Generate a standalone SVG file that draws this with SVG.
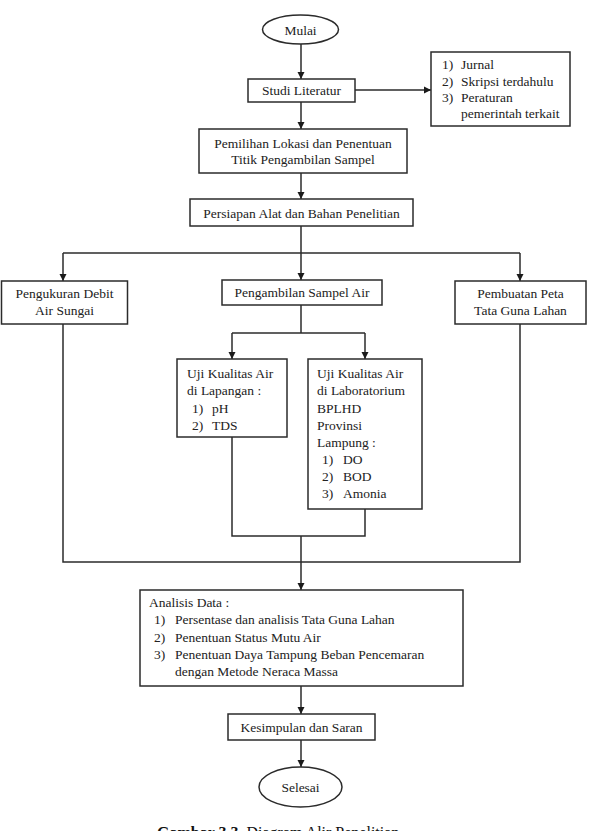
<svg xmlns="http://www.w3.org/2000/svg" width="590" height="831" viewBox="0 0 590 831">
<style>
.b{fill:#fff;stroke:#2b2b2b;stroke-width:1.5}
.t{font-family:"Liberation Serif","Times New Roman",serif;font-size:13.5px;fill:#222}
.c{text-anchor:middle}
.l{fill:none;stroke:#2b2b2b;stroke-width:1.5}
.cap{font-family:"Liberation Serif","Times New Roman",serif;font-size:16px;fill:#111}
</style>
<defs>
<marker id="ar" viewBox="0 0 10 10" refX="10" refY="5" markerWidth="7" markerHeight="8" markerUnits="userSpaceOnUse" orient="auto">
<path d="M0,0 L10,5 L0,10 z" fill="#1a1a1a"/>
</marker>
</defs>
<rect width="590" height="831" fill="#fff"/>
<g id="connectors">
<line class="l" x1="301" y1="44" x2="301" y2="79" marker-end="url(#ar)"/>
<line class="l" x1="355" y1="90" x2="431" y2="90" marker-end="url(#ar)"/>
<line class="l" x1="301" y1="102" x2="301" y2="129" marker-end="url(#ar)"/>
<line class="l" x1="301" y1="173" x2="301" y2="199" marker-end="url(#ar)"/>
<polyline class="l" points="301,226 301,253"/>
<polyline class="l" points="63,253 520,253"/>
<line class="l" x1="63" y1="253" x2="63" y2="281" marker-end="url(#ar)"/>
<line class="l" x1="301" y1="253" x2="301" y2="280" marker-end="url(#ar)"/>
<line class="l" x1="520" y1="253" x2="520" y2="281" marker-end="url(#ar)"/>
<polyline class="l" points="301,305 301,333"/>
<polyline class="l" points="232,333 365,333"/>
<line class="l" x1="232" y1="333" x2="232" y2="359" marker-end="url(#ar)"/>
<line class="l" x1="365" y1="333" x2="365" y2="359" marker-end="url(#ar)"/>
<polyline class="l" points="232,437 232,536 365,536 365,509"/>
<polyline class="l" points="63,324 63,562 520,562 520,324"/>
<line class="l" x1="301" y1="536" x2="301" y2="590" marker-end="url(#ar)"/>
<line class="l" x1="301" y1="686" x2="301" y2="714" marker-end="url(#ar)"/>
<line class="l" x1="301" y1="740" x2="301" y2="767" marker-end="url(#ar)"/>
</g>
<g id="mulai">
<ellipse class="b" cx="300.5" cy="29.5" rx="38" ry="14.5"/>
<text class="t c" x="300.5" y="34.5">Mulai</text>
</g>
<g id="studi">
<rect class="b" x="248" y="79" width="107" height="23"/>
<text class="t c" x="301.5" y="95">Studi Literatur</text>
</g>
<g id="referensi">
<rect class="b" x="431" y="52" width="139" height="74"/>
<text class="t" x="442" y="69">1)</text><text class="t" x="461" y="69">Jurnal</text>
<text class="t" x="442" y="86">2)</text><text class="t" x="461" y="86">Skripsi terdahulu</text>
<text class="t" x="442" y="102">3)</text><text class="t" x="461" y="102">Peraturan</text>
<text class="t" x="461" y="118">pemerintah terkait</text>
</g>
<g id="pemilihan">
<rect class="b" x="199" y="129" width="208" height="44"/>
<text class="t c" x="303" y="148">Pemilihan Lokasi dan Penentuan</text>
<text class="t c" x="303" y="164">Titik Pengambilan Sampel</text>
</g>
<g id="persiapan">
<rect class="b" x="190" y="199" width="223" height="27"/>
<text class="t c" x="301.5" y="218">Persiapan Alat dan Bahan Penelitian</text>
</g>
<g id="pengukuran">
<rect class="b" x="1.5" y="281" width="126" height="43"/>
<text class="t c" x="64.5" y="298">Pengukuran Debit</text>
<text class="t c" x="64.5" y="315">Air Sungai</text>
</g>
<g id="pengambilan">
<rect class="b" x="222" y="280" width="160" height="25"/>
<text class="t c" x="302" y="297">Pengambilan Sampel Air</text>
</g>
<g id="pembuatan">
<rect class="b" x="455" y="281" width="131" height="43"/>
<text class="t c" x="520.5" y="298">Pembuatan Peta</text>
<text class="t c" x="520.5" y="315">Tata Guna Lahan</text>
</g>
<g id="uji-lapangan">
<rect class="b" x="177" y="359" width="110" height="78"/>
<text class="t" x="187" y="378">Uji Kualitas Air</text>
<text class="t" x="187" y="395">di Lapangan :</text>
<text class="t" x="192" y="413">1)</text><text class="t" x="212" y="413">pH</text>
<text class="t" x="192" y="430">2)</text><text class="t" x="212" y="430">TDS</text>
</g>
<g id="uji-lab">
<rect class="b" x="308" y="359" width="114" height="150"/>
<text class="t" x="317" y="378">Uji Kualitas Air</text>
<text class="t" x="317" y="395">di Laboratorium</text>
<text class="t" x="317" y="413">BPLHD</text>
<text class="t" x="317" y="430">Provinsi</text>
<text class="t" x="317" y="447">Lampung :</text>
<text class="t" x="322" y="464">1)</text><text class="t" x="343" y="464">DO</text>
<text class="t" x="322" y="481">2)</text><text class="t" x="343" y="481">BOD</text>
<text class="t" x="322" y="498">3)</text><text class="t" x="343" y="498">Amonia</text>
</g>
<g id="analisis">
<rect class="b" x="140" y="590" width="323" height="96"/>
<text class="t" x="149" y="607">Analisis Data :</text>
<text class="t" x="154" y="624">1)</text><text class="t" x="175" y="624">Persentase dan analisis Tata Guna Lahan</text>
<text class="t" x="154" y="642">2)</text><text class="t" x="175" y="642">Penentuan Status Mutu Air</text>
<text class="t" x="154" y="659">3)</text><text class="t" x="175" y="659">Penentuan Daya Tampung Beban Pencemaran</text>
<text class="t" x="175" y="676">dengan Metode Neraca Massa</text>
</g>
<g id="kesimpulan">
<rect class="b" x="228" y="714" width="147" height="26"/>
<text class="t c" x="301.5" y="732">Kesimpulan dan Saran</text>
</g>
<g id="selesai">
<ellipse class="b" cx="300.5" cy="787" rx="41.5" ry="20"/>
<text class="t c" x="300.5" y="792">Selesai</text>
</g>
<text class="cap" x="157" y="838"><tspan font-weight="bold">Gambar 3.3.</tspan> Diagram Alir Penelitian</text>
</svg>
